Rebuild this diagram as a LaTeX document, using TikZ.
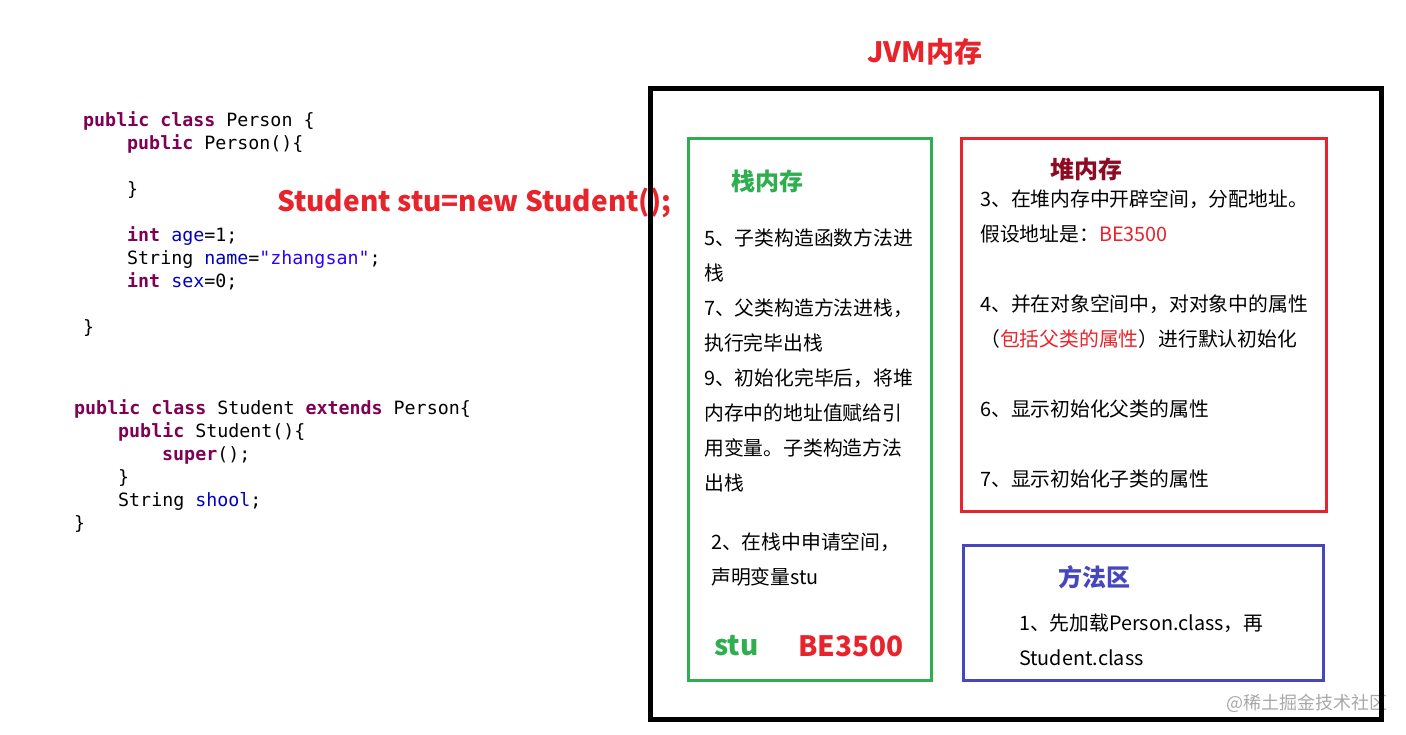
\documentclass[tikz,border=0pt]{standalone}
\usepackage{fontspec}
\setmainfont{Noto Sans CJK SC}
\newfontfamily\codefamily{DejaVu Sans Mono}
\usepackage{xcolor}
\usepackage{tikz}
\definecolor{jvmRed}{HTML}{E8232B}
\definecolor{jvmGreen}{HTML}{2EAE4F}
\definecolor{jvmBlue}{HTML}{4646BE}
\definecolor{jvmDarkRed}{HTML}{8E0B24}
\definecolor{codeKey}{HTML}{7F0055}
\definecolor{codeField}{HTML}{0000C0}
\definecolor{codeString}{HTML}{2A00FF}
\definecolor{markGray}{HTML}{A8A8A8}
\newcommand\kw[1]{\textcolor{codeKey}{\bfseries #1}}
\newcommand\fld[1]{\textcolor{codeField}{#1}}
\newcommand\strlit[1]{\textcolor{codeString}{#1}}
\tikzset{
  jvm diagram/.style={x=1pt, y=-1pt, line join=miter},
  jvm frame/.style={draw=black, line width=5pt},
  jvm area/.style={line width=3pt},
  mem text/.style={anchor=west, inner sep=0pt, text height=0.84em, text depth=0.12em,
    yshift=-4.5pt, font=\fontsize{19.8}{24}\selectfont},
  mem title/.style={inner sep=0pt, font=\fontsize{24}{28}\selectfont\bfseries},
  code line/.style={anchor=west, inner sep=0pt, text height=0.75em, text depth=0.22em,
    yshift=-4.5pt, font=\codefamily\fontsize{18.3}{22}\selectfont},
  big mark/.style={inner sep=0pt, font=\fontsize{28}{32}\selectfont\bfseries}
}

\begin{document}
\begin{tikzpicture}[jvm diagram]
\useasboundingbox (0,0) rectangle (1406,735);
% source code
\node[code line] (person head) at (83,119) {\kw{public} \kw{class} Person \{};
\node[code line] (person ctor) at (127,142) {\kw{public} Person()\{};
\node[code line] (person ctor end) at (127,188) {\}};
\node[code line] (person age) at (127,234) {\kw{int} \fld{age}=1;};
\node[code line] (person name) at (127,257) {String \fld{name}=\strlit{"zhangsan"};};
\node[code line] (person sex) at (127,280) {\kw{int} \fld{sex}=0;};
\node[code line] (person end) at (83,326) {\}};
\node[code line] (student head) at (74,407) {\kw{public} \kw{class} Student \kw{extends} Person\{};
\node[code line] (student ctor) at (118,430) {\kw{public} Student()\{};
\node[code line] (student super) at (162,453) {\kw{super}();};
\node[code line] (student ctor end) at (118,476) {\}};
\node[code line] (student shool) at (118,499) {String \fld{shool};};
\node[code line] (student end) at (74,522) {\}};
\node[big mark,text=jvmRed,anchor=west,yshift=-2.5pt] (new stu) at (277,200) {Student stu=new Student();};
% JVM memory
\node[big mark,text=jvmRed] (jvm title) at (925,52) {JVM内存};
\node[text=markGray,anchor=west,inner sep=0pt,font=\fontsize{18}{20}\selectfont] (mark) at (1226,703) {@稀土掘金技术社区};
\draw[jvm frame] (650,89) rectangle (1381,719);
\draw[jvm area,draw=jvmGreen] (688,139) rectangle (931,680);
\draw[jvm area,draw=jvmRed] (961,139) rectangle (1326,511);
\draw[jvm area,draw=jvmBlue] (963,545) rectangle (1323,680);
% stack
\node[mem title,text=jvmGreen] (stack title) at (767,181) {栈内存};
\foreach \txt [count=\i from 0] in {5、子类构造函数方法进,栈,7、父类构造方法进栈，,执行完毕出栈,9、初始化完毕后，将堆,内存中的地址值赋给引,用变量。子类构造方法,出栈}
  \node[mem text] (stack line \i) at (704,{237+35*\i}) {\txt};
\node[mem text] (stack alloc) at (711,541) {2、在栈中申请空间，};
\node[mem text] (stack decl) at (711,576) {声明变量stu};
\node[big mark,text=jvmGreen,anchor=west] (stack var) at (714,646) {stu};
\node[big mark,text=jvmRed,anchor=west] (stack addr) at (798,646) {BE3500};
% heap
\node[mem title,text=jvmDarkRed] (heap title) at (1086,169) {堆内存};
\node[mem text] (heap open) at (980,198) {3、在堆内存中开辟空间，分配地址。};
\node[mem text] (heap addr) at (980,233) {假设地址是：\textcolor{jvmRed}{BE3500}};
\node[mem text] (heap init) at (980,303) {4、并在对象空间中，对对象中的属性};
\node[mem text] (heap init more) at (980,338) {（\textcolor{jvmRed}{包括父类的属性}）进行默认初始化};
\node[mem text] (heap parent) at (980,408) {6、显示初始化父类的属性};
\node[mem text] (heap child) at (980,478) {7、显示初始化子类的属性};
% method area
\node[mem title,text=jvmBlue] (method title) at (1094,577) {方法区};
\node[mem text] (method load) at (1019,622) {1、先加载Person.class，再};
\node[mem text] (method load more) at (1019,657) {Student.class};
\end{tikzpicture}
\end{document}
